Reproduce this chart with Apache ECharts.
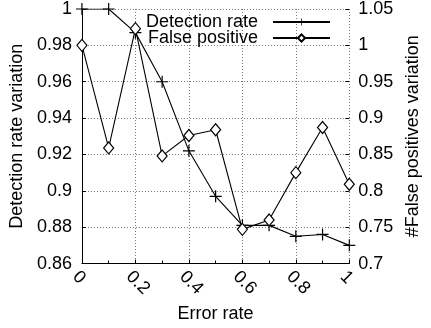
<!DOCTYPE html>
<html><head><meta charset="utf-8">
<script src="https://cdn.jsdelivr.net/npm/echarts@6/dist/echarts.min.js"></script>
<style>html,body{margin:0;padding:0;background:#fff}#c{width:431px;height:328px}</style>
</head><body><div id="c"></div>
<script>
const errorRates = [0, 0.1, 0.2, 0.3, 0.4, 0.5, 0.6, 0.7, 0.8, 0.9, 1.0];
const detectionRate = [1, 1, 0.987, 0.96, 0.922, 0.897, 0.881, 0.881, 0.875, 0.876, 0.870];
const falsePositive = [1.0, 0.859, 1.023, 0.848, 0.876, 0.884, 0.747, 0.760, 0.825, 0.887, 0.809];
const seriesNames = ['Detection rate', 'False positive'];
const axisNames = {x: 'Error rate', yLeft: 'Detection rate variation', yRight: '#False positives variation'};

const FONT = 'Liberation Sans, Arial, sans-serif';
const plusPath = 'path://M0,4.5H10V5.5H0Z M4.5,0H5.5V10H4.5Z';
const gridLine = {show: true, lineStyle: {color: '#777', type: [1, 2], width: 1}};

const chart = echarts.init(document.getElementById('c'), null, {renderer: 'canvas'});
chart.setOption({
  animation: false,
  backgroundColor: '#fff',
  textStyle: {fontFamily: FONT, color: '#000'},
  grid: {left: 77.5, right: 81.7, top: 5.85, bottom: 60, containLabel: false},
  legend: {
    orient: 'vertical', right: 100, top: 13, align: 'right',
    itemWidth: 57, itemHeight: 9, itemGap: -2, padding: 0,
    textStyle: {fontSize: 18, fontFamily: FONT, color: '#000', padding: [0, 10, 0, 0]},
    data: seriesNames
  },
  xAxis: {
    type: 'value', min: 0, max: 1, interval: 0.2,
    name: axisNames.x, nameLocation: 'middle', nameGap: 38,
    nameTextStyle: {fontSize: 18, fontFamily: FONT, color: '#000'},
    axisLine: {show: true, onZero: false, lineStyle: {color: '#000', width: 1}},
    axisTick: {show: true, inside: true, length: 4, lineStyle: {color: '#000'}},
    minorTick: {show: true, splitNumber: 2, length: 3, lineStyle: {color: '#000'}},
    splitLine: gridLine,
    axisLabel: {fontSize: 18, fontFamily: FONT, color: '#000', rotate: -45, align: 'left', verticalAlign: 'top', margin: 4}
  },
  yAxis: [{
    type: 'value', min: 0.86, max: 1, interval: 0.02, position: 'left',
    name: axisNames.yLeft, nameLocation: 'middle', nameGap: 55,
    nameTextStyle: {fontSize: 18, fontFamily: FONT, color: '#000'},
    axisLine: {show: true, lineStyle: {color: '#000', width: 1}},
    axisTick: {show: true, inside: true, length: 4, lineStyle: {color: '#000'}},
    splitLine: gridLine,
    axisLabel: {fontSize: 18, fontFamily: FONT, color: '#000', margin: 10}
  }, {
    type: 'value', min: 0.7, max: 1.05, interval: 0.05, position: 'right',
    name: axisNames.yRight, nameLocation: 'middle', nameGap: 51, nameRotate: 90,
    nameTextStyle: {fontSize: 18, fontFamily: FONT, color: '#000'},
    axisLine: {show: false},
    axisTick: {show: true, inside: true, length: 4, lineStyle: {color: '#000'}},
    splitLine: {show: false},
    axisLabel: {fontSize: 18, fontFamily: FONT, color: '#000', margin: 9}
  }],
  series: [{
    name: seriesNames[0], type: 'line', yAxisIndex: 0,
    data: errorRates.map((x, i) => [x, detectionRate[i]]),
    symbol: plusPath, symbolSize: 12, showAllSymbol: true,
    lineStyle: {color: '#000', width: 1.1},
    itemStyle: {color: '#000'}
  }, {
    name: seriesNames[1], type: 'line', yAxisIndex: 1,
    data: errorRates.map((x, i) => [x, falsePositive[i]]),
    symbol: 'diamond', symbolSize: [10, 12], showAllSymbol: true,
    lineStyle: {color: '#000', width: 1.1},
    itemStyle: {color: '#fff', borderColor: '#000', borderWidth: 1.2}
  }]
});
</script></body></html>
